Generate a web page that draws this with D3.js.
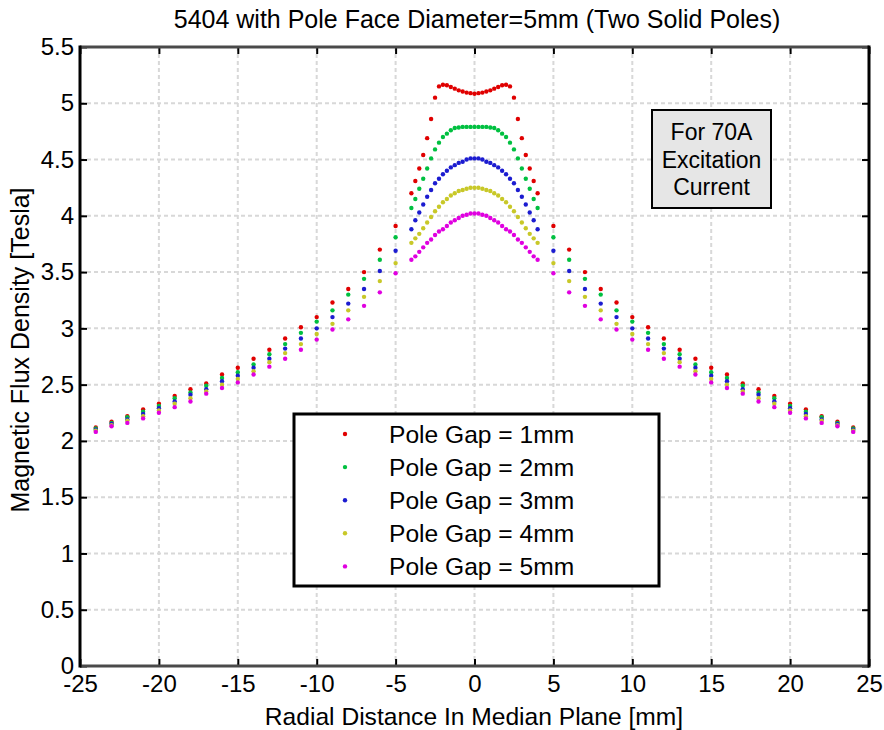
<!DOCTYPE html>
<html>
<head>
<meta charset="utf-8">
<script src="https://cdn.jsdelivr.net/npm/d3@7"></script>
<style>
  body { margin: 0; background: #fff; }
  svg text { font-family: "Liberation Sans", Arial, sans-serif; fill: #000; }
</style>
</head>
<body>
<div id="chart"></div>
<script>
// radial positions [mm]
const outerX = [-24, -23, -22, -21, -20, -19, -18, -17, -16, -15, -14, -13, -12, -11, -10, -9, -8, -7, -6, -5,
  5, 6, 7, 8, 9, 10, 11, 12, 13, 14, 15, 16, 17, 18, 19, 20, 21, 22, 23, 24];
const innerX = [-4, -3.75, -3.5, -3.25, -3, -2.75, -2.5, -2.25, -2, -1.75, -1.5, -1.25, -1, -0.75, -0.5, -0.25, 0,
  0.25, 0.5, 0.75, 1, 1.25, 1.5, 1.75, 2, 2.25, 2.5, 2.75, 3, 3.25, 3.5, 3.75, 4];

// flux density [T] for each pole gap
const gap1Outer = [2.12, 2.17, 2.22, 2.28, 2.33, 2.40, 2.46, 2.51, 2.59, 2.65, 2.73, 2.81, 2.91, 3.01, 3.10, 3.23, 3.35, 3.50, 3.70, 3.91,
  3.91, 3.70, 3.50, 3.35, 3.23, 3.10, 3.01, 2.91, 2.81, 2.73, 2.65, 2.59, 2.51, 2.46, 2.40, 2.33, 2.28, 2.22, 2.17, 2.12];
const gap2Outer = [2.11, 2.16, 2.21, 2.26, 2.31, 2.38, 2.43, 2.49, 2.56, 2.61, 2.68, 2.77, 2.86, 2.96, 3.06, 3.16, 3.30, 3.44, 3.61, 3.81,
  3.81, 3.61, 3.44, 3.30, 3.16, 3.06, 2.96, 2.86, 2.77, 2.68, 2.61, 2.56, 2.49, 2.43, 2.38, 2.31, 2.26, 2.21, 2.16, 2.11];
const gap3Outer = [2.10, 2.15, 2.19, 2.24, 2.29, 2.35, 2.41, 2.46, 2.53, 2.58, 2.65, 2.73, 2.82, 2.91, 3.00, 3.10, 3.22, 3.35, 3.51, 3.69,
  3.69, 3.51, 3.35, 3.22, 3.10, 3.00, 2.91, 2.82, 2.73, 2.65, 2.58, 2.53, 2.46, 2.41, 2.35, 2.29, 2.24, 2.19, 2.15, 2.10];
const gap4Outer = [2.09, 2.14, 2.18, 2.22, 2.27, 2.33, 2.38, 2.44, 2.50, 2.55, 2.62, 2.70, 2.78, 2.86, 2.95, 3.04, 3.16, 3.28, 3.42, 3.58,
  3.58, 3.42, 3.28, 3.16, 3.04, 2.95, 2.86, 2.78, 2.70, 2.62, 2.55, 2.50, 2.44, 2.38, 2.33, 2.27, 2.22, 2.18, 2.14, 2.09];
const gap5Outer = [2.08, 2.13, 2.16, 2.20, 2.25, 2.30, 2.35, 2.42, 2.47, 2.52, 2.59, 2.66, 2.73, 2.81, 2.90, 2.99, 3.08, 3.20, 3.32, 3.49,
  3.49, 3.32, 3.20, 3.08, 2.99, 2.90, 2.81, 2.73, 2.66, 2.59, 2.52, 2.47, 2.42, 2.35, 2.30, 2.25, 2.20, 2.16, 2.13, 2.08];

const gap1Inner = [4.20, 4.31, 4.42, 4.54, 4.69, 4.86, 5.05, 5.15, 5.165, 5.16, 5.145, 5.13, 5.115, 5.105, 5.095, 5.09, 5.085,
  5.09, 5.095, 5.105, 5.115, 5.13, 5.145, 5.16, 5.165, 5.15, 5.05, 4.86, 4.69, 4.54, 4.42, 4.31, 4.20];
const gap2Inner = [4.07, 4.15, 4.24, 4.33, 4.42, 4.51, 4.59, 4.65, 4.70, 4.73, 4.76, 4.78, 4.785, 4.79, 4.79, 4.79, 4.79,
  4.79, 4.79, 4.79, 4.785, 4.78, 4.76, 4.73, 4.70, 4.65, 4.59, 4.51, 4.42, 4.33, 4.24, 4.15, 4.07];
const gap3Inner = [3.88, 3.96, 4.03, 4.10, 4.17, 4.23, 4.29, 4.33, 4.37, 4.40, 4.43, 4.45, 4.47, 4.48, 4.50, 4.51, 4.51,
  4.51, 4.50, 4.48, 4.47, 4.45, 4.43, 4.40, 4.37, 4.33, 4.29, 4.23, 4.17, 4.10, 4.03, 3.96, 3.88];
const gap4Inner = [3.76, 3.80, 3.84, 3.89, 3.94, 3.99, 4.04, 4.08, 4.12, 4.15, 4.18, 4.20, 4.22, 4.23, 4.24, 4.25, 4.25,
  4.25, 4.24, 4.23, 4.22, 4.20, 4.18, 4.15, 4.12, 4.08, 4.04, 3.99, 3.94, 3.89, 3.84, 3.80, 3.76];
const gap5Inner = [3.61, 3.64, 3.68, 3.72, 3.76, 3.79, 3.83, 3.86, 3.88, 3.91, 3.94, 3.96, 3.98, 4.00, 4.01, 4.02, 4.02,
  4.02, 4.01, 4.00, 3.98, 3.96, 3.94, 3.91, 3.88, 3.86, 3.83, 3.79, 3.76, 3.72, 3.68, 3.64, 3.61];

const seriesNames = ["Pole Gap = 1mm", "Pole Gap = 2mm", "Pole Gap = 3mm", "Pole Gap = 4mm", "Pole Gap = 5mm"];
const xTicks = [-25, -20, -15, -10, -5, 0, 5, 10, 15, 20, 25];
const yTicks = [0, 0.5, 1, 1.5, 2, 2.5, 3, 3.5, 4, 4.5, 5, 5.5];
const noteLines = ["For 70A", "Excitation", "Current"];

const colorScale = d3
  .scaleOrdinal()
  .domain(seriesNames)
  .range(["#e00000", "#00c040", "#1c1cd0", "#c8c828", "#e000e0"]);

const outerSets = [gap1Outer, gap2Outer, gap3Outer, gap4Outer, gap5Outer];
const innerSets = [gap1Inner, gap2Inner, gap3Inner, gap4Inner, gap5Inner];

const seriesData = seriesNames.map((name, k) => ({
  name,
  points: outerX
    .map((x, i) => ({ x, y: outerSets[k][i] }))
    .concat(innerX.map((x, i) => ({ x, y: innerSets[k][i] }))),
}));

const width = 884;
const height = 730;
const margin = { top: 47, right: 15, bottom: 64, left: 80 };

const svg = d3
  .select("#chart")
  .append("svg")
  .attr("width", width)
  .attr("height", height);

const xScale = d3
  .scaleLinear()
  .domain([-25, 25])
  .range([margin.left, width - margin.right]);

const yScale = d3
  .scaleLinear()
  .domain([0, 5.5])
  .range([height - margin.bottom, margin.top]);

const x0 = xScale(-25), x1 = xScale(25), y0 = yScale(0), y1 = yScale(5.5);

// grid lines (dotted)
svg
  .append("g")
  .selectAll("line")
  .data(xTicks.slice(1, -1))
  .enter()
  .append("line")
  .attr("x1", (d) => xScale(d))
  .attr("x2", (d) => xScale(d))
  .attr("y1", y1)
  .attr("y2", y0)
  .attr("stroke", "#d8d8d8")
  .attr("stroke-width", 2)
  .attr("stroke-dasharray", "4,3");

svg
  .append("g")
  .selectAll("line")
  .data(yTicks.slice(1, -1))
  .enter()
  .append("line")
  .attr("x1", x0)
  .attr("x2", x1)
  .attr("y1", (d) => yScale(d))
  .attr("y2", (d) => yScale(d))
  .attr("stroke", "#d8d8d8")
  .attr("stroke-width", 2)
  .attr("stroke-dasharray", "4,3");

// data dots
seriesData.forEach((s) => {
  svg
    .append("g")
    .selectAll("circle")
    .data(s.points)
    .enter()
    .append("circle")
    .attr("cx", (p) => xScale(p.x))
    .attr("cy", (p) => yScale(p.y))
    .attr("r", 2.2)
    .attr("fill", colorScale(s.name));
});

// axes with inward ticks
const styleAxis = (g) => {
  g.select(".domain").remove();
  g.selectAll(".tick line").attr("stroke", "#000").attr("stroke-width", 2);
  g.selectAll(".tick text").attr("font-size", "24px").attr("fill", "#000");
};

svg
  .append("g")
  .attr("transform", `translate(0,${y0})`)
  .call(d3.axisBottom(xScale).tickValues(xTicks).tickSizeInner(-7).tickSizeOuter(0).tickPadding(9).tickFormat((d) => `${d}`))
  .call(styleAxis);

svg
  .append("g")
  .attr("transform", `translate(0,${y1})`)
  .call(d3.axisTop(xScale).tickValues(xTicks).tickSizeInner(-7).tickSizeOuter(0).tickFormat(""))
  .call(styleAxis);

svg
  .append("g")
  .attr("transform", `translate(${x0},0)`)
  .call(d3.axisLeft(yScale).tickValues(yTicks).tickSizeInner(-7).tickSizeOuter(0).tickPadding(6).tickFormat((d) => `${d}`))
  .call(styleAxis);

svg
  .append("g")
  .attr("transform", `translate(${x1},0)`)
  .call(d3.axisRight(yScale).tickValues(yTicks).tickSizeInner(-7).tickSizeOuter(0).tickFormat(""))
  .call(styleAxis);

// plot box
svg.append("line").attr("x1", x0).attr("x2", x1).attr("y1", y1).attr("y2", y1)
  .attr("stroke", "#4a4a4a").attr("stroke-width", 3);
svg.append("line").attr("x1", x0).attr("x2", x1).attr("y1", y0).attr("y2", y0)
  .attr("stroke", "#4a4a4a").attr("stroke-width", 3);
svg.append("line").attr("x1", x0).attr("x2", x0).attr("y1", y1 - 1.5).attr("y2", y0 + 1.5)
  .attr("stroke", "#000").attr("stroke-width", 3);
svg.append("line").attr("x1", x1).attr("x2", x1).attr("y1", y1 - 1.5).attr("y2", y0 + 1.5)
  .attr("stroke", "#000").attr("stroke-width", 3);

// title and axis labels
svg
  .append("text")
  .attr("x", 477)
  .attr("y", 28)
  .attr("text-anchor", "middle")
  .attr("font-size", "25px")
  .text("5404 with Pole Face Diameter=5mm (Two Solid Poles)");

svg
  .append("text")
  .attr("x", 474)
  .attr("y", 725)
  .attr("text-anchor", "middle")
  .attr("font-size", "24.6px")
  .text("Radial Distance In Median Plane [mm]");

svg
  .append("text")
  .attr("transform", "rotate(-90)")
  .attr("x", -350)
  .attr("y", 29)
  .attr("text-anchor", "middle")
  .attr("font-size", "25px")
  .text("Magnetic Flux Density [Tesla]");

// note box
const note = svg.append("g");
note
  .append("rect")
  .attr("x", 652)
  .attr("y", 110)
  .attr("width", 119)
  .attr("height", 98)
  .attr("fill", "#e6e6e6")
  .attr("stroke", "#000")
  .attr("stroke-width", 2);
note
  .selectAll("text")
  .data(noteLines)
  .enter()
  .append("text")
  .attr("x", 711.5)
  .attr("y", (d, i) => 140 + i * 27.5)
  .attr("text-anchor", "middle")
  .attr("font-size", "23px")
  .text((d) => d);

// legend
const legend = svg.append("g");
legend
  .append("rect")
  .attr("x", 294)
  .attr("y", 414)
  .attr("width", 365)
  .attr("height", 172)
  .attr("fill", "#fff")
  .attr("stroke", "#000")
  .attr("stroke-width", 3);

const rows = legend
  .selectAll("g.row")
  .data(seriesNames)
  .enter()
  .append("g")
  .attr("class", "row")
  .attr("transform", (d, i) => `translate(0,${434 + i * 33.1})`);

rows
  .append("circle")
  .attr("cx", 345)
  .attr("cy", 0)
  .attr("r", 2.2)
  .attr("fill", (d) => colorScale(d));

rows
  .append("text")
  .attr("x", 389)
  .attr("y", 9)
  .attr("font-size", "24.6px")
  .text((d) => d);
</script>
</body>
</html>
